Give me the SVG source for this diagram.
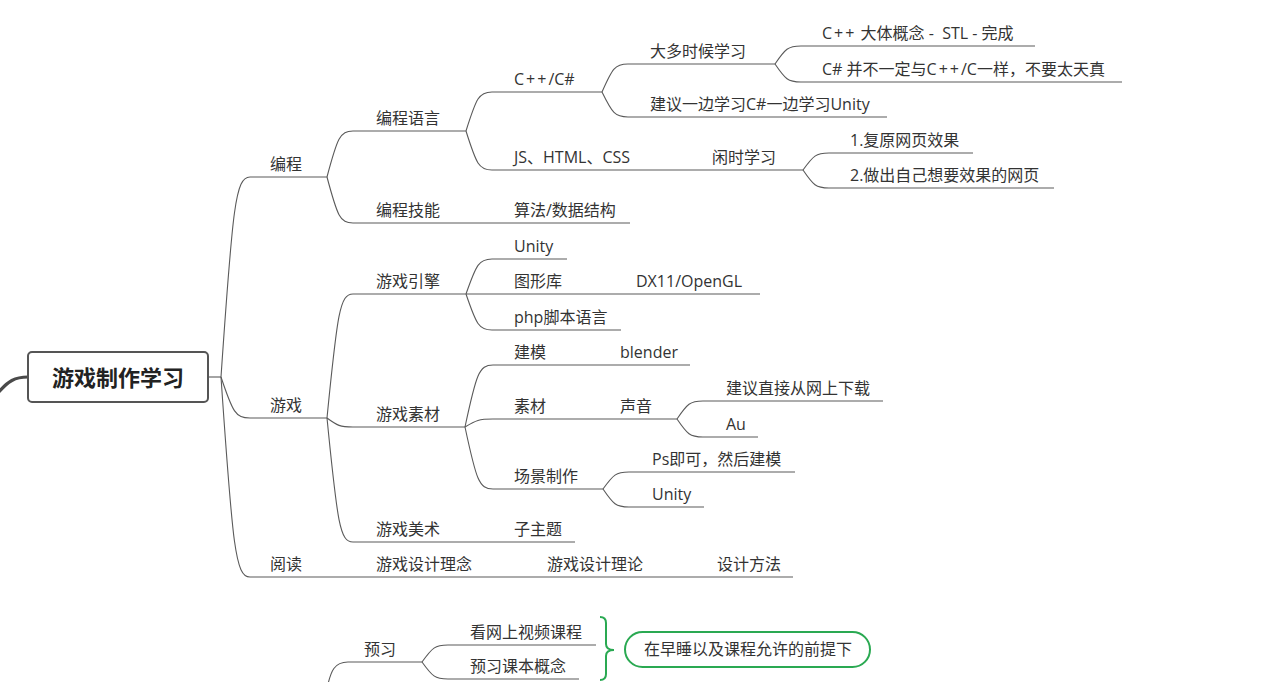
<svg xmlns="http://www.w3.org/2000/svg" width="1263" height="682" viewBox="0 0 1263 682">
<style>
text{font-family:"Open Sans","Noto Sans CJK SC",sans-serif;font-size:16px;fill:#333;white-space:pre}
.c path{fill:none;stroke:#5a5a5a;stroke-width:1.1}
.root text{font-family:"Noto Sans CJK SC",sans-serif;font-size:22px;font-weight:bold;fill:#222}
.g{fill:none;stroke:#2aa952;stroke-width:2}
</style>
<rect width="1263" height="682" fill="#fff"/>
<g class="c" id="connectors">
<path d="M208 377H221"/>
<path d="M221 377C232.6 207 235.5 177 250 177H327"/>
<path d="M221 377C232.6 411.9 235.5 418 250 418H327"/>
<path d="M221 377C232.6 547 235.5 577 250 577H793"/>
<path d="M327 177C337.4 137.9 340 131 353 131H466"/>
<path d="M327 177C337.4 216.1 340 223 353 223H630"/>
<path d="M466 131C476.4 97.85 479 92 492 92H602"/>
<path d="M466 131C476.4 164.15 479 170 492 170H803"/>
<path d="M602 92C612.4 68.2 615 64 628 64H775"/>
<path d="M602 92C612.4 113.25 615 117 628 117H887"/>
<path d="M775 64C785.4 48.7 788 46 801 46H1035"/>
<path d="M775 64C785.4 79.3 788 82 801 82H1122"/>
<path d="M803 170C813.4 155.55 816 153 829 153H973"/>
<path d="M803 170C813.4 185.3 816 188 829 188H1054"/>
<path d="M327 418C337.4 312.6 340 294 353 294H466"/>
<path d="M327 418C337.4 425.65 340 427 353 427H465"/>
<path d="M327 418C337.4 523.4 340 542 353 542H575"/>
<path d="M466 294C476.4 264.25 479 259 492 259H567"/>
<path d="M466 294H760"/>
<path d="M466 294C476.4 324.6 479 330 492 330H621"/>
<path d="M465 427C476.2 374.3 479 365 493 365H690"/>
<path d="M465 427C476.2 420.2 479 419 493 419H677"/>
<path d="M465 427C476.2 479.7 479 489 493 489H603"/>
<path d="M677 419C687.4 403.7 690 401 703 401H883"/>
<path d="M677 419C687.4 434.3 690 437 703 437H758"/>
<path d="M603 489C613.4 474.55 616 472 629 472H795"/>
<path d="M603 489C613.4 504.3 616 507 629 507H704"/>
<path d="M328 684C331 672 334 662 348 662H422"/>
<path d="M422 662C432.4 647.55 435 645 448 645H596"/>
<path d="M422 662C432.4 676.45 435 679 448 679H579"/>
<path d="M-2 393C8 381 15 377 28 377" style="stroke:#4a4a4a;stroke-width:3.2"/>
</g>
<g id="root" class="root">
<rect x="28" y="352" width="180" height="50" rx="4" fill="#fff" stroke="#555" stroke-width="2"/>
<text x="118" y="386" text-anchor="middle">游戏制作学习</text>
</g>
<g id="n-biancheng"><text x="270" y="170">编程</text></g>
<g id="n-bianchengyuyan"><text x="376" y="124">编程语言</text></g>
<g id="n-cpp"><text x="514" y="85">C<tspan dx="2">+</tspan><tspan dx="2">+</tspan><tspan dx="2">/C#</tspan></text></g>
<g id="n-duoshi"><text x="650" y="57">大多时候学习</text></g>
<g id="n-cppgainian"><text x="822" y="39">C<tspan dx="2">+</tspan><tspan dx="2">+</tspan><tspan dx="2"> 大体概念 -  STL - 完成</tspan></text></g>
<g id="n-csharp"><text x="822" y="75">C# 并不一定与C<tspan dx="2">+</tspan><tspan dx="2">+</tspan><tspan dx="2">/C一样，不要太天真</tspan></text></g>
<g id="n-jianyi"><text x="650" y="110">建议一边学习C#一边学习Unity</text></g>
<g id="n-js"><text x="514" y="163">JS、HTML、CSS</text></g>
<g id="n-xianshi"><text x="712" y="163">闲时学习</text></g>
<g id="n-fuyuan"><text x="850" y="146">1.复原网页效果</text></g>
<g id="n-zuochu"><text x="850" y="181">2.做出自己想要效果的网页</text></g>
<g id="n-jineng"><text x="376" y="216">编程技能</text></g>
<g id="n-suanfa"><text x="514" y="216">算法/数据结构</text></g>
<g id="n-youxi"><text x="270" y="411">游戏</text></g>
<g id="n-yinqing"><text x="376" y="287">游戏引擎</text></g>
<g id="n-unity1"><text x="514" y="252">Unity</text></g>
<g id="n-tuxingku"><text x="514" y="287">图形库</text></g>
<g id="n-dx11"><text x="636" y="287">DX11/OpenGL</text></g>
<g id="n-php"><text x="514" y="323">php脚本语言</text></g>
<g id="n-sucai"><text x="376" y="420">游戏素材</text></g>
<g id="n-jianmo"><text x="514" y="358">建模</text></g>
<g id="n-blender"><text x="620" y="358">blender</text></g>
<g id="n-sucai2"><text x="514" y="412">素材</text></g>
<g id="n-shengyin"><text x="620" y="412">声音</text></g>
<g id="n-xiazai"><text x="726" y="394">建议直接从网上下载</text></g>
<g id="n-au"><text x="726" y="430">Au</text></g>
<g id="n-changjing"><text x="514" y="482">场景制作</text></g>
<g id="n-ps"><text x="652" y="465">Ps即可，然后建模</text></g>
<g id="n-unity2"><text x="652" y="500">Unity</text></g>
<g id="n-meishu"><text x="376" y="535">游戏美术</text></g>
<g id="n-zizhuti"><text x="514" y="535">子主题</text></g>
<g id="n-yuedu"><text x="270" y="570">阅读</text></g>
<g id="n-linian"><text x="376" y="570">游戏设计理念</text></g>
<g id="n-lilun"><text x="547" y="570">游戏设计理论</text></g>
<g id="n-fangfa"><text x="717" y="570">设计方法</text></g>
<g id="n-yuxi"><text x="364" y="655">预习</text></g>
<g id="n-shipin"><text x="470" y="638">看网上视频课程</text></g>
<g id="n-keben"><text x="470" y="672">预习课本概念</text></g>
<g id="summary">
<path class="g" d="M600 617Q606 617 606 623L606 644Q606 650 614 650Q606 650 606 656L606 674Q606 680 600 680"/>
<rect class="g" x="625" y="632" width="245" height="35" rx="17.5" fill="#fff"/>
<text x="748" y="655" text-anchor="middle">在早睡以及课程允许的前提下</text>
</g>
</svg>
